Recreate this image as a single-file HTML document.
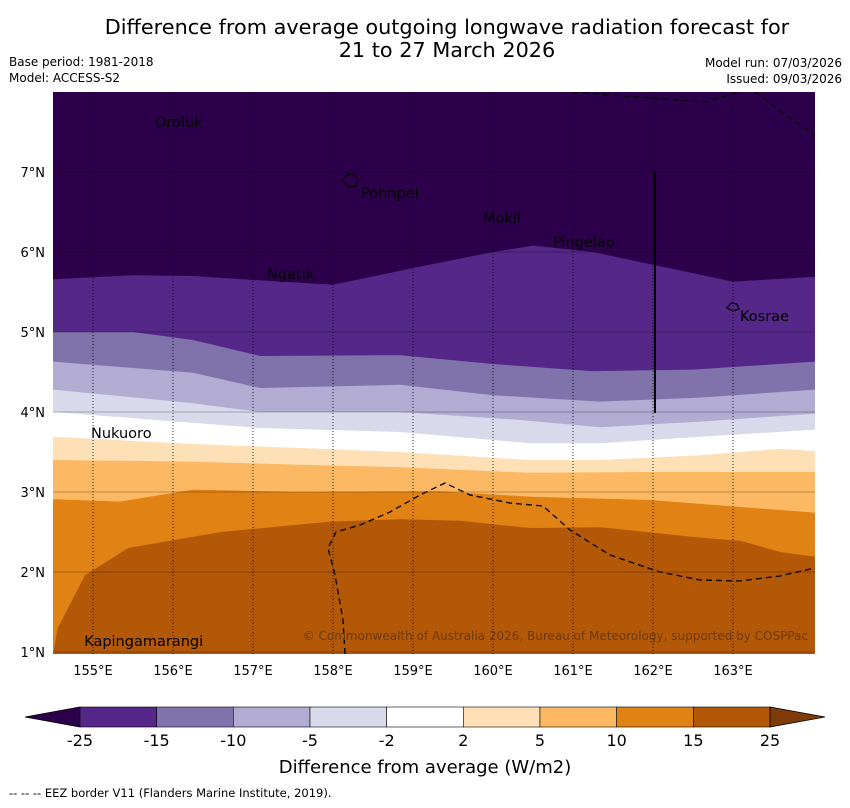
<!DOCTYPE html>
<html><head><meta charset="utf-8"><style>
body{margin:0;background:#fff;font-family:"DejaVu Sans","Liberation Sans",sans-serif;}
svg text{font-family:"DejaVu Sans","Liberation Sans",sans-serif;}
</style></head><body>
<svg id="chart" width="850" height="804" xmlns="http://www.w3.org/2000/svg">
<text x="447" y="34" font-size="20.8" text-anchor="middle">Difference from average outgoing longwave radiation forecast for</text>
<text x="447" y="57" font-size="20.8" text-anchor="middle">21 to 27 March 2026</text>
<text x="9" y="66" font-size="12">Base period: 1981-2018</text>
<text x="9" y="82" font-size="12">Model: ACCESS-S2</text>
<text x="842" y="67" font-size="12" text-anchor="end">Model run: 07/03/2026</text>
<text x="842" y="83" font-size="12" text-anchor="end">Issued: 09/03/2026</text>
<defs><clipPath id="mapclip"><rect x="53" y="92" width="762" height="562"/></clipPath></defs>
<g id="map" clip-path="url(#mapclip)"></g>
<g id="axes"></g>
<g id="cbar"></g>
<text x="425" y="773" font-size="18" text-anchor="middle">Difference from average (W/m2)</text>
<text x="9" y="797" font-size="11.5">--  --  -- EEZ border V11 (Flanders Marine Institute, 2019).</text>
</svg>
<script>
const NS="http://www.w3.org/2000/svg";
const levels=["-25","-15","-10","-5","-2","2","5","10","15","25"];
const bandColors=["#2d004b","#542788","#8073ac","#b2abd2","#d8daeb","#ffffff","#fee0b6","#fdb863","#e08214","#b35806"];
const bLon1=[154.5,155.5,156.25,157,158,159,160,160.5,161.25,162,163,164.03];
const bLat1=[5.66,5.71,5.70,5.65,5.59,5.80,6.0,6.08,6.0,5.84,5.63,5.69];
const bLon2=[154.5,155.5,156.25,157.09,158.84,160,161.25,162.5,164.03];
const bLat2=[5.0,5.0,4.9,4.7,4.71,4.6,4.51,4.53,4.63];
const bLon3=[154.5,156.25,157.09,158.84,160,161.34,162.59,164.03];
const bLat3=[4.63,4.49,4.3,4.34,4.21,4.13,4.18,4.28];
const bLon4=[154.5,156.25,157.09,158.84,160.34,161.34,162.59,164.03];
const bLat4=[4.28,4.11,4.0,4.0,3.9,3.81,3.88,3.98];
const bLon5=[154.5,157.09,158.84,160.46,161.34,162.59,164.03];
const bLat5=[4.0,3.8,3.75,3.61,3.61,3.69,3.78];
const bLon6=[154.5,156.25,157.59,158.84,160.46,161.34,162.59,163.59,164.03];
const bLat6=[3.69,3.6,3.55,3.5,3.4,3.4,3.46,3.54,3.51];
const bLon7=[154.5,156.25,157.59,158.84,160.46,161.96,164.03];
const bLat7=[3.4,3.38,3.34,3.31,3.24,3.25,3.25];
const bLon8=[154.5,155.34,156.25,157.59,159.34,160.46,161.96,164.03];
const bLat8=[2.91,2.88,3.03,3.0,3.01,2.94,2.9,2.74];
const bLon9=[154.5,154.56,154.9,155.44,156.6,157.97,158.84,159.59,160.46,161.34,162.59,163.09,163.59,164.03];
const bLat9=[0.975,1.3,1.96,2.3,2.5,2.63,2.66,2.64,2.55,2.56,2.43,2.39,2.25,2.19];
const lonTicks=[155,156,157,158,159,160,161,162,163];
const latTicks=[1,2,3,4,5,6,7];
const places=["Oroluk","Pohnpei","Mokil","Pingelap","Ngatik","Kosrae","Nukuoro","Kapingamarangi"];
const placeLon=[155.775,158.35,159.875,160.75,157.175,163.0875,154.975,154.89];
const placeLat=[7.56,6.675,6.3625,6.0625,5.6625,5.1375,3.675,1.075];

const X=lon=>53+(lon-154.5)*80, Y=lat=>92+(8-lat)*80;
const map=document.getElementById('map'), axes=document.getElementById('axes'), cb=document.getElementById('cbar');
function mk(tag,attrs,parent){const e=document.createElementNS(NS,tag);for(const k in attrs)e.setAttribute(k,attrs[k]);parent.appendChild(e);return e;}
const bg=mk('rect',{x:53,y:92,width:762,height:562,fill:bandColors[0]},map);


const bounds=[[bLon1,bLat1],[bLon2,bLat2],[bLon3,bLat3],[bLon4,bLat4],[bLon5,bLat5],[bLon6,bLat6],[bLon7,bLat7],[bLon8,bLat8],[bLon9,bLat9]];
bounds.forEach((b,i)=>{
  let d='M'+X(b[0][0])+','+Y(b[1][0]);
  for(let j=1;j<b[0].length;j++)d+=' L'+X(b[0][j])+','+Y(b[1][j]);
  d+=' L820,660 L48,660 Z';
  const p=mk('path',{d:d,fill:bandColors[i+1]},map);
  
  
});
latTicks.forEach(l=>{const g=mk('line',{x1:53,x2:815,y1:Y(l),y2:Y(l),stroke:'#000','stroke-opacity':0.35,'stroke-width':0.7},map);

});
lonTicks.forEach(l=>{const g=mk('line',{x1:X(l),x2:X(l),y1:92,y2:654,stroke:'#000','stroke-width':0.8,'stroke-dasharray':'1,2'},map);

});
const e1=mk('path',{d:'M573,92 L650,98 L705,102 L740,92 M755,92 L790,118 L815,135',fill:'none',stroke:'#000','stroke-width':1.3,'stroke-dasharray':'6,4'},map);


const e2=mk('path',{d:'M345,654 L343,620 L335,575 L328,548 L336,532 L360,525 L390,512 L420,495 L445,483 L470,495 L510,503 L543,506 L570,530 L610,555 L660,572 L700,580 L740,581 L780,576 L815,568',fill:'none',stroke:'#000','stroke-width':1.3,'stroke-dasharray':'6,4'},map);


const vl=mk('line',{x1:655,x2:655,y1:172,y2:413,stroke:'#000','stroke-width':2},map);


const is1=mk('path',{d:'M343,181 L347,175 L353,174 L358,179 L356,186 L348,187 Z',fill:'none',stroke:'#000','stroke-width':1.2},map);


const is2=mk('path',{d:'M727,308 L731,303 L737,304 L739,309 L733,311 Z',fill:'none',stroke:'#000','stroke-width':1.2},map);


places.forEach((n,i)=>{const t=mk('text',{x:X(placeLon[i]),y:Y(placeLat[i]),'font-size':14.5},map);t.textContent=n;

});
const cr=mk('text',{x:808,y:640,'font-size':12,'text-anchor':'end',fill:'#6b3a0a'},map);
cr.textContent='© Commonwealth of Australia 2026, Bureau of Meteorology, supported by COSPPac';


latTicks.forEach(l=>{const t=mk('text',{x:45,y:Y(l)+5,'font-size':13,'text-anchor':'end'},axes);t.textContent=l+'°N';

});
lonTicks.forEach(l=>{const t=mk('text',{x:X(l),y:675,'font-size':13,'text-anchor':'middle'},axes);t.textContent=l+'°E';

});
const cx0=80,cw=(770-80)/9,cy=707,ch=20;
const lt=mk('polygon',{points:`${cx0},${cy} ${cx0},${cy+ch} 25,${cy+ch/2}`,fill:bandColors[0],stroke:'#000','stroke-width':0.8},cb);


for(let i=0;i<9;i++){const r=mk('rect',{x:cx0+i*cw,y:cy,width:cw,height:ch,fill:bandColors[i+1],stroke:'#000','stroke-width':0.6},cb);

}
const rt=mk('polygon',{points:`770,${cy} 770,${cy+ch} 825,${cy+ch/2}`,fill:'#7f3b08',stroke:'#000','stroke-width':0.8},cb);


levels.forEach((l,i)=>{const t=mk('text',{x:cx0+i*cw,y:746,'font-size':16,'text-anchor':'middle'},cb);t.textContent=l;

});
</script>
</body></html>
